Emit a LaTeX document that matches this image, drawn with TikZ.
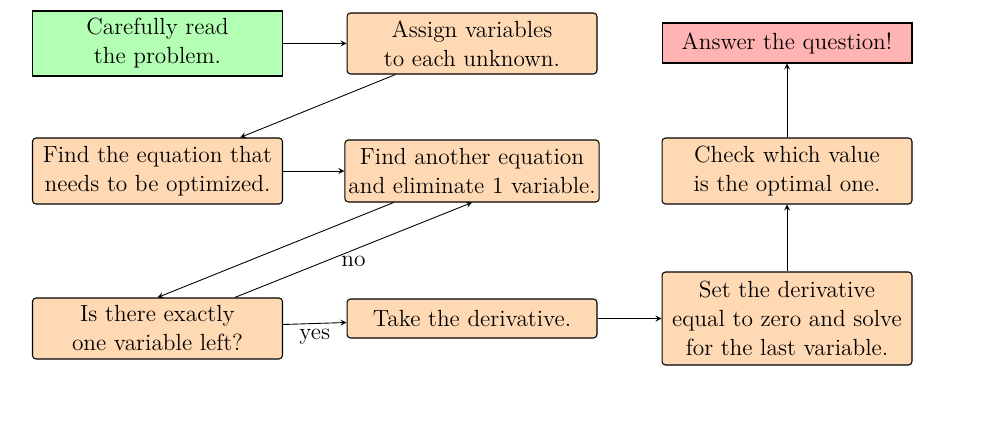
\documentclass[tikz,border=0pt]{standalone}
\usetikzlibrary{arrows}
\definecolor{boxorange}{HTML}{FFD9B3}
\definecolor{boxgreen}{HTML}{B3FFB3}
\definecolor{boxred}{HTML}{FFB3B3}
\tikzset{
  stepbox/.style={draw=black, line width=0.6pt, fill=boxorange, rounded corners=2pt,
    minimum width=5cm, align=center, inner sep=2pt,
    font=\fontsize{13.3}{16.5}\selectfont},
  startbox/.style={stepbox, fill=boxgreen, rounded corners=0pt},
  endbox/.style={stepbox, fill=boxred, rounded corners=0pt},
  conn/.style={-stealth, line width=0.5pt},
  lbl/.style={font=\fontsize{13.3}{16.5}\selectfont, inner sep=3pt}
}
\begin{document}
\begin{tikzpicture}[x=0.02cm,y=-0.02cm]
\useasboundingbox (0,0) rectangle (1000,425);
\node[startbox, minimum height=1.3cm] (read) at (157.5,43.5) {Carefully read\\the problem.};
\node[stepbox, minimum height=1.22cm] (assign) at (472,43.5) {Assign variables\\to each unknown.};
\node[endbox, minimum height=0.8cm] (answer) at (787,43) {Answer the question!};
\node[stepbox, minimum height=1.32cm] (findeq) at (157.5,171) {Find the equation that\\needs to be optimized.};
\node[stepbox, minimum height=1.24cm] (another) at (472,171) {Find another equation\\and eliminate 1 variable.};
\node[stepbox, minimum height=1.32cm] (check) at (787,171) {Check which value\\is the optimal one.};
\node[stepbox, minimum height=1.22cm] (isthere) at (157.5,328.5) {Is there exactly\\one variable left?};
\node[stepbox, minimum height=0.78cm] (take) at (472,318.5) {Take the derivative.};
\node[stepbox, minimum height=1.86cm] (set) at (787,318.5) {Set the derivative\\equal to zero and solve\\for the last variable.};
\draw[conn] (read) -- (assign);
\draw[conn] (assign) -- (findeq);
\draw[conn] (findeq) -- (another);
\draw[conn] (another) -- (isthere.north);
\draw[conn] (isthere) -- node[lbl, below] {no} (another.south);
\draw[conn] (isthere) -- node[lbl, below] {yes} (take);
\draw[conn] (take) -- (set);
\draw[conn] (set) -- (check);
\draw[conn] (check) -- (answer);
\end{tikzpicture}
\end{document}
